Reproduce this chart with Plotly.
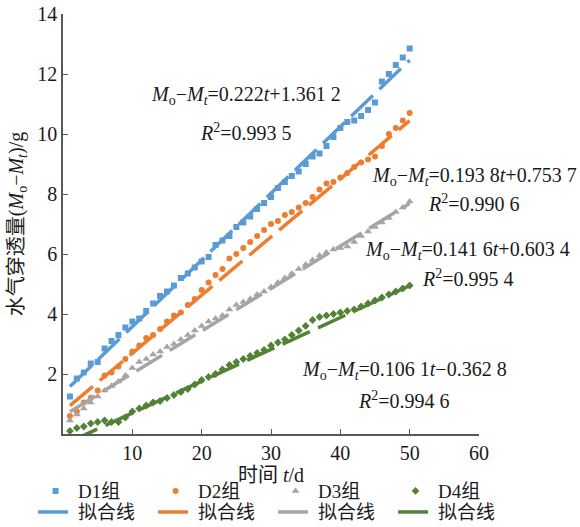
import plotly.graph_objects as go

# ---------------- data ----------------
days = list(range(1, 51))

d1 = [1.25, 1.85, 2.05, 2.35, 2.4, 2.85, 3.1, 3.3, 3.55, 3.75,
      3.85, 4.1, 4.35, 4.6, 4.75, 4.95, 5.2, 5.35, 5.55, 5.75,
      5.9, 6.3, 6.45, 6.6, 6.9, 7.05, 7.25, 7.5, 7.7, 7.9,
      8.2, 8.4, 8.6, 8.75, 9.0, 9.25, 9.35, 9.6, 9.9, 10.2,
      10.4, 10.45, 10.6, 10.8, 11.05, 11.75, 12.0, 12.3, 12.55, 12.85]

d2 = [0.6, 0.75, 1.05, 1.2, 1.45, 1.95, 2.05, 2.25, 2.5, 2.75,
      2.95, 3.2, 3.3, 3.5, 3.75, 3.95, 4.05, 4.3, 4.5, 4.8,
      5.05, 5.3, 5.5, 5.85, 6.0, 6.2, 6.4, 6.6, 6.8, 7.0,
      7.1, 7.3, 7.4, 7.55, 7.7, 7.9, 8.15, 8.35, 8.4, 8.55,
      8.7, 8.9, 9.05, 9.15, 9.25, 9.6, 10.0, 10.2, 10.45, 10.7]

d3 = [0.45, 0.65, 0.85, 1.05, 1.25, 1.45, 1.6, 1.75, 1.95, 2.2,
      2.4, 2.5, 2.65, 2.75, 2.9, 3.0, 3.15, 3.3, 3.45, 3.6,
      3.75, 3.85, 3.95, 4.15, 4.3, 4.4, 4.5, 4.65, 4.75, 4.9,
      5.05, 5.2, 5.35, 5.5, 5.65, 5.8, 5.95, 6.05, 6.15, 6.2,
      6.25, 6.4, 6.6, 6.75, 6.9, 7.05, 7.2, 7.4, 7.55, 7.75]

d4 = [0.1, 0.2, 0.25, 0.35, 0.4, 0.45, 0.4, 0.4, 0.55, 0.75,
      0.85, 0.95, 1.05, 1.1, 1.2, 1.3, 1.4, 1.5, 1.65, 1.8,
      1.9, 2.0, 2.15, 2.3, 2.4, 2.5, 2.6, 2.7, 2.8, 2.95,
      3.05, 3.15, 3.3, 3.45, 3.6, 3.8, 3.9, 3.95, 4.0, 4.05,
      4.1, 4.15, 4.25, 4.35, 4.45, 4.55, 4.65, 4.75, 4.85, 4.95]

series_names = ["D1组", "D2组", "D3组", "D4组"]
fit_name = "拟合线"
slopes = [0.222, 0.1938, 0.1416, 0.1061]
intercepts = [1.3612, 0.7537, 0.6034, -0.3628]
eq_texts = [
    "<i>M</i><sub>o</sub>−<i>M</i><sub><i>t</i></sub>=0.222<i>t</i>+1.361 2",
    "<i>M</i><sub>o</sub>−<i>M</i><sub><i>t</i></sub>=0.193 8<i>t</i>+0.753 7",
    "<i>M</i><sub>o</sub>−<i>M</i><sub><i>t</i></sub>=0.141 6<i>t</i>+0.603 4",
    "<i>M</i><sub>o</sub>−<i>M</i><sub><i>t</i></sub>=0.106 1<i>t</i>−0.362 8",
]
r2_texts = ["<i>R</i><sup>2</sup>=0.993 5", "<i>R</i><sup>2</sup>=0.990 6",
            "<i>R</i><sup>2</sup>=0.995 4", "<i>R</i><sup>2</sup>=0.994 6"]
x_ticks = [10, 20, 30, 40, 50, 60]
y_ticks = [2, 4, 6, 8, 10, 12, 14]

# ---------------- style ----------------
colors = ["#5B9BD5", "#ED7D31", "#A5A5A5", "#548235"]
symbols = ["square", "circle", "triangle-up", "diamond"]
msizes = [6, 6, 7, 6]
SERIF = "Liberation Serif, Times New Roman, Noto Sans CJK SC, serif"
TXT = "#1a1a1a"

fig = go.Figure()
all_data = [d1, d2, d3, d4]
for i in range(4):
    fig.add_trace(go.Scatter(
        x=days, y=all_data[i], mode="markers", name=series_names[i],
        marker=dict(symbol=symbols[i], size=msizes[i], color=colors[i]),
        legend="legend", cliponaxis=False))
for i in range(4):
    fx = [days[0], days[-1]]
    fy = [slopes[i] * t + intercepts[i] for t in fx]
    fig.add_trace(go.Scatter(
        x=fx, y=fy, mode="lines", name=fit_name,
        line=dict(color=colors[i], width=3.5, dash="30px,9px"),
        legend="legend2"))

# annotation positions (data coords)
eq_pos = [(26.4, 11.27), (59.3, 8.57), (58.4, 6.13), (49.3, 2.13)]
r2_pos = [(26.4, 10.07), (59.3, 7.70), (58.4, 5.20), (49.2, 1.13)]
annotations = []
for i in range(4):
    annotations.append(dict(x=eq_pos[i][0], y=eq_pos[i][1], xref="x", yref="y",
                            text=eq_texts[i], showarrow=False, xanchor="center",
                            yanchor="middle", font=dict(family=SERIF, size=20, color=TXT)))
    annotations.append(dict(x=r2_pos[i][0], y=r2_pos[i][1], xref="x", yref="y",
                            text=r2_texts[i], showarrow=False, xanchor="center",
                            yanchor="middle", font=dict(family=SERIF, size=20, color=TXT)))
# origin label
annotations.append(dict(x=-1.6, y=-0.45, xref="x", yref="y", text="0", showarrow=False,
                        xanchor="center", yanchor="middle",
                        font=dict(family=SERIF, size=20, color=TXT)))

axis_common = dict(showgrid=False, zeroline=False, showline=True, linecolor="#595959",
                   linewidth=1.5, ticks="inside", ticklen=5, tickwidth=1.3,
                   tickcolor="#595959", tickfont=dict(family=SERIF, size=20, color=TXT))

legend_common = dict(orientation="h", xanchor="left", yanchor="middle",
                     entrywidth=70, entrywidthmode="pixels", itemwidth=35,
                     font=dict(family=SERIF, size=19, color=TXT),
                     bgcolor="rgba(0,0,0,0)", tracegroupgap=0)

fig.update_layout(
    width=580, height=527,
    margin=dict(l=63, r=101, t=14, b=93, autoexpand=False),
    paper_bgcolor="white", plot_bgcolor="white",
    xaxis=dict(range=[0, 60], tickvals=x_ticks, **axis_common,
               title=dict(text="时间 <i>t</i>/d", standoff=3,
                          font=dict(family=SERIF, size=20, color=TXT))),
    yaxis=dict(range=[0, 14], tickvals=y_ticks, **axis_common,
               title=dict(text="水气穿透量(<i>M</i><sub>o</sub>−<i>M</i><sub><i>t</i></sub>)/g",
                          standoff=8,
                          font=dict(family=SERIF, size=20, color=TXT))),
    legend=dict(x=-0.072, y=-0.136, **legend_common),
    legend2=dict(x=-0.072, y=-0.186, **legend_common),
    annotations=annotations,
    showlegend=True,
)

fig.write_html("out.html")
